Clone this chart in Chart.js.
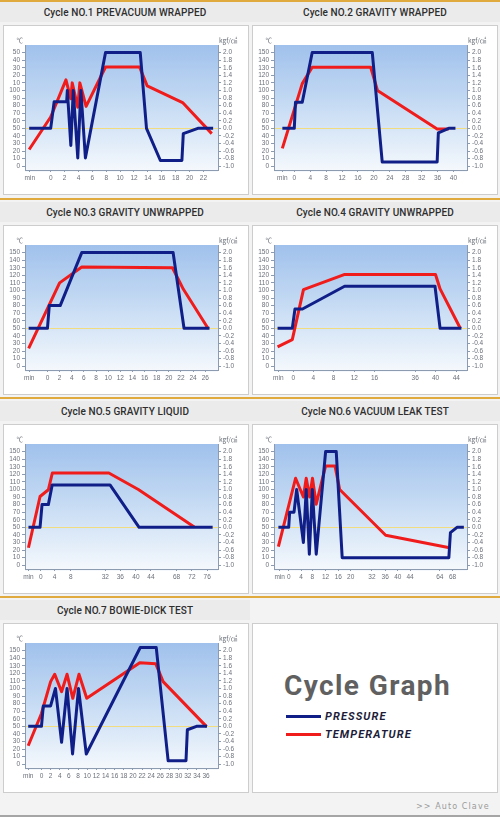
<!DOCTYPE html>
<html><head><meta charset="utf-8">
<script src="https://cdn.jsdelivr.net/npm/chart.js@4.4.1/dist/chart.umd.min.js"></script>
<style>
html,body{margin:0;padding:0}
body{width:500px;height:817px;position:relative;background:#f3f3f3;overflow:hidden;font-family:Roboto,"Liberation Sans",sans-serif}
.gold{position:absolute;left:0;width:500px;height:2px;background:#e0aa3e}
.title{position:absolute;width:250px;height:20px;line-height:21px;text-align:center;font-size:10px;font-weight:500;color:#2e2e2e;background:#ebebeb;letter-spacing:0.1px}
.panel{position:absolute;width:244px;height:168px;background:#fff;border:1px solid #cdcdcd}
.panel canvas{position:absolute;left:0;top:0}
#legendTitle{position:absolute;left:284px;top:666px;font:bold 28px Roboto,sans-serif;color:#606060;line-height:40px;letter-spacing:1.4px}
.lg{position:absolute;left:286px;width:35px;height:3px}
.lgt{position:absolute;left:325px;font:italic bold 11px Roboto,sans-serif;color:#1d1d3a;line-height:12px;letter-spacing:1.1px}
#footer{position:absolute;left:416px;top:802px;font:8px "DejaVu Sans",sans-serif;letter-spacing:1.1px;color:#9a9a9a}
#bottomLine{position:absolute;left:0;top:815px;width:500px;height:2px;background:#a5a5a5}
</style></head><body>
<script>
// ---------------- DATA ----------------
const cycleTitles = [
  "Cycle NO.1 PREVACUUM WRAPPED","Cycle NO.2 GRAVITY WRAPPED",
  "Cycle NO.3 GRAVITY UNWRAPPED","Cycle NO.4 GRAVITY UNWRAPPED",
  "Cycle NO.5 GRAVITY LIQUID","Cycle NO.6 VACUUM LEAK TEST",
  "Cycle NO.7 BOWIE-DICK TEST"];

const seriesNames = ["PRESSURE","TEMPERATURE"];
const tempUnit = "℃";
const pressureUnit = "kgf/㎠";

// temperature axis ticks (℃) and their printed labels
const tempTickValues = [0,10,20,30,40,50,60,70,80,90,100,110,120,130,140,150];
const tempTickLabels = ["0","10","20","30","40","50","60","70","80","90","100","110","120","130","140","150"];
// cycle 1's picture prints the upper labels without their leading "1"
const tempTickLabelsCycle1 = ["0","10","20","30","40","50","60","70","80","90","100","10","20","30","40","50"];
// pressure axis labels (kgf/㎠)
const pressureTickLabels = ["-1.0","-0.8","-0.6","-0.4","-0.2","0.0","0.2","0.4","0.6","0.8","1.0","1.2","1.4","1.6","1.8","2.0"];
// 0 kgf/㎠ sits level with 50 ℃, 1 kgf/㎠ = 50 ℃ of axis height
const pressureZeroTemp = 50;
const tempPerKgf = 50;

// x axis ticks (position on axis, printed label)
const cycle1TickPos = [-3,0,2,4,6,8,10,12,14,16,18,20,22];
const cycle1TickLabels = ["min","0","2","4","6","8","10","12","14","16","18","20","22"];
const cycle2TickPos = [-3,0,4,8,12,16,20,24,28,32,36,40];
const cycle2TickLabels = ["min","0","4","8","12","16","20","24","28","32","36","40"];
const cycle3TickPos = [-3,0,2,4,6,8,10,12,14,16,18,20,22,24,26];
const cycle3TickLabels = ["min","0","2","4","6","8","10","12","14","16","18","20","22","24","26"];
const cycle4TickPos = [-2.95,0,3.93,7.93,12,16,24,28,32.1];
const cycle4TickLabels = ["min","0","4","8","12","16","36","40","44"];
const cycle5TickPos = [-3.2,0,3.65,7.83,16.87,20.78,24.87,28.78,35.48,39.48,43.48];
const cycle5TickLabels = ["min","0","4","8","32","36","40","44","68","72","76"];
const cycle6TickPos = [-2.87,0,3.94,7.55,11.8,15.85,19.8,26.6,30.85,34.9,38.8,48.3,52.4];
const cycle6TickLabels = ["min","0","4","8","12","16","20","32","36","40","44","64","68"];
const cycle7TickPos = [-2.9,0,2,4,6,8,10,12,14,16,18,20,22,24,26,28,30,32,34,36];
const cycle7TickLabels = ["min","0","2","4","6","8","10","12","14","16","18","20","22","24","26","28","30","32","34","36"];

// visible x-range of each plot (axis units)
const xMinValues = [-3.7,-5.1,-3.7,-3.8,-4.1,-4.7,-3.6];
const xMaxValues = [24.1,43.4,28.1,34.2,46.3,57.0,38.6];

// series: [x, temperature ℃] and [x, pressure kgf/㎠]
const cycle1Temperature = [[-3.1,22],[0,65],[2.2,114],[2.9,89],[3.1,110],[3.9,78],[4.2,110],[5.1,79],[7.9,131],[12.8,131],[13.9,106],[19,84],[23.2,43]];
const cycle1Pressure = [[-3.1,0],[0,0],[0.5,0.7],[2.3,0.7],[2.4,1.0],[2.9,-0.45],[3.25,1.0],[3.9,-0.78],[4.35,1.0],[5.0,-0.78],[7.9,2.0],[12.9,2.0],[13.8,0],[15.8,-0.85],[18.9,-0.85],[19.1,-0.14],[21.2,0],[23.4,0]];

const cycle2Temperature = [[-3,23.5],[2,109],[4.5,130.6],[19.2,130.6],[20.9,100],[35.9,49],[38.8,49]];
const cycle2Pressure = [[-3,0],[0,0],[0.3,0.69],[2,0.69],[4.5,2.0],[19.6,2.0],[22.1,-0.89],[35.9,-0.89],[36.2,-0.12],[38.8,0],[40.5,0]];

const cycle3Temperature = [[-3.1,23.4],[2,110],[5.65,131],[20.6,130],[22.4,101.5],[26.5,49.4]];
const cycle3Pressure = [[-3.1,0],[0,0],[0.3,0.6],[2.1,0.6],[5.65,2.0],[20.7,2.0],[22.5,0],[26.7,0]];

const cycle4Temperature = [[-3.1,25.4],[-0.2,35],[2,101],[10,121],[28,121],[28.9,102],[32.9,49.8]];
const cycle4Pressure = [[-3.1,0],[-0.2,0],[0.33,0.51],[1.8,0.51],[10.1,1.11],[27.9,1.11],[28.9,0],[33.1,0]];

const cycle5Temperature = [[-3.2,23],[-0.17,90.7],[2,99.6],[3.04,121.7],[17.8,121.7],[25.5,100],[40.1,50.4]];
const cycle5Pressure = [[-3.2,0],[-0.17,0],[0.35,0.6],[2,0.6],[3,1.12],[18.1,1.12],[25.7,0],[44.9,0]];

const cycle6Temperature = [[-3.3,24.6],[2.2,114.8],[4.7,90],[5.6,114.8],[6.7,90],[7.6,114.8],[8.8,80.5],[11.8,131],[14.8,131],[16.3,100],[31,39.6],[51,23.3]];
const cycle6Pressure = [[-3.3,0],[0,0],[0.3,0.4],[1.7,0.4],[2.55,1.0],[4.7,-0.4],[5.6,1.0],[6.6,-0.71],[7.55,1.0],[8.8,-0.71],[11.8,2.0],[15.2,2.0],[17.1,-0.8],[51.2,-0.8],[51.7,-0.14],[53.8,0],[56,0]];

const cycle7Temperature = [[-2.9,24.3],[0,67],[2,109],[2.9,118.7],[4.4,95.7],[5.6,118.7],[6.85,87],[8.2,118.7],[9.9,87],[21.5,134],[25,132.5],[26.6,109],[36.1,49.6]];
const cycle7Pressure = [[-2.9,0],[0,0],[0.4,0.54],[2,0.54],[3.06,1.0],[4.4,-0.42],[5.6,1.0],[6.8,-0.73],[8.1,1.0],[9.8,-0.73],[21.6,2.08],[25.1,2.08],[27.7,-0.91],[31.6,-0.91],[31.9,-0.09],[33.9,0],[36.2,0]];

// ---------------- STYLE / LAYOUT ----------------
const PRESSURE_COLOR = "#101f88";
const TEMP_COLOR = "#f01c1c";
const TICK_COLOR = "#6a6f78";
const AXIS_COLOR = "#8c9bb0";
const TEMP_MIN = -5, TEMP_MAX = 160;
const rowTops = [0,200,399,598];
const colPanelLeft = [3,252];

const cycles = [
  {temp:cycle1Temperature, pres:cycle1Pressure, tp:cycle1TickPos, tl:cycle1TickLabels, yl:tempTickLabelsCycle1},
  {temp:cycle2Temperature, pres:cycle2Pressure, tp:cycle2TickPos, tl:cycle2TickLabels, yl:tempTickLabels},
  {temp:cycle3Temperature, pres:cycle3Pressure, tp:cycle3TickPos, tl:cycle3TickLabels, yl:tempTickLabels},
  {temp:cycle4Temperature, pres:cycle4Pressure, tp:cycle4TickPos, tl:cycle4TickLabels, yl:tempTickLabels},
  {temp:cycle5Temperature, pres:cycle5Pressure, tp:cycle5TickPos, tl:cycle5TickLabels, yl:tempTickLabels},
  {temp:cycle6Temperature, pres:cycle6Pressure, tp:cycle6TickPos, tl:cycle6TickLabels, yl:tempTickLabels},
  {temp:cycle7Temperature, pres:cycle7Pressure, tp:cycle7TickPos, tl:cycle7TickLabels, yl:tempTickLabels}
];

function el(cls, css, text){
  const d = document.createElement('div');
  if (cls) d.className = cls;
  Object.assign(d.style, css);
  if (text !== undefined) d.textContent = text;
  document.body.appendChild(d);
  return d;
}

// gold separators
[0,198,397,596].forEach(t => el('gold', {top:t+'px'}));

const plotDecor = {
  id:'plotDecor',
  beforeDraw(chart){
    const {ctx, chartArea:a, scales} = chart;
    const g = ctx.createLinearGradient(0, a.top, 0, a.bottom + 4);
    g.addColorStop(0, '#a0c1ec');
    g.addColorStop(0.5, '#c9ddf4');
    g.addColorStop(1, '#f7fafd');
    ctx.save();
    ctx.fillStyle = g;
    ctx.fillRect(a.left, a.top, a.right - a.left, a.bottom - a.top + 2);
    const y = Math.round(scales.y.getPixelForValue(pressureZeroTemp)) + 0.5;
    ctx.strokeStyle = '#f1dc80'; ctx.lineWidth = 1;
    ctx.beginPath(); ctx.moveTo(a.left, y); ctx.lineTo(a.right, y); ctx.stroke();
    ctx.restore();
  },
  afterDraw(chart){
    const {ctx, chartArea:a} = chart;
    ctx.save();
    ctx.fillStyle = TICK_COLOR;
    ctx.font = '6.5px "Noto Sans CJK KR", "Liberation Sans", sans-serif';
    ctx.textBaseline = 'alphabetic';
    ctx.textAlign = 'right';
    ctx.fillText(tempUnit, a.left - 2, a.top - 2);
    ctx.textAlign = 'left';
    ctx.fillText(pressureUnit, a.right + 1, a.top - 2);
    ctx.restore();
  }
};

const tickFont = {family:'"Liberation Sans", Arial, sans-serif', size:6.5};

cycles.forEach((c, i) => {
  const row = Math.floor(i/2), col = i % 2;
  const top = rowTops[row];
  const cellLeft = col*250;
  el('title', {left:cellLeft+'px', top:(top+2)+'px'}, cycleTitles[i]);
  const panel = el('panel', {left:colPanelLeft[col]+'px', top:(top+25)+'px'});
  const cv = document.createElement('canvas');
  cv.width = 244; cv.height = 168;
  cv.style.width = '244px'; cv.style.height = '168px';
  panel.appendChild(cv);

  new Chart(cv, {
    type:'line',
    data:{
      datasets:[
        {label:seriesNames[0], yAxisID:'y2', data:c.pres.map(([x,y])=>({x,y})),
         borderColor:PRESSURE_COLOR, borderWidth:3, borderJoinStyle:'round', pointRadius:0, tension:0, fill:false},
        {label:seriesNames[1], yAxisID:'y', data:c.temp.map(([x,y])=>({x,y})),
         borderColor:TEMP_COLOR, borderWidth:3, borderJoinStyle:'round', pointRadius:0, tension:0, fill:false}
      ]
    },
    options:{
      responsive:false, animation:false, devicePixelRatio:1,
      layout:{padding:{top:19,left:0,right:0,bottom:0}},
      plugins:{legend:{display:false}, tooltip:{enabled:false}},
      scales:{
        x:{type:'linear', min:xMinValues[i], max:xMaxValues[i],
           afterBuildTicks(s){ s.ticks = c.tp.map(v=>({value:v})); },
           afterFit(s){ s.height = 24; },
           ticks:{autoSkip:false, maxRotation:0, font:tickFont, color:TICK_COLOR, padding:2,
             callback(v){ const k = c.tp.indexOf(v); return k >= 0 ? c.tl[k] : ''; }},
           grid:{drawOnChartArea:false, drawTicks:true, tickLength:2, color:AXIS_COLOR},
           border:{display:true, color:AXIS_COLOR, width:1}},
        y:{type:'linear', position:'left', min:TEMP_MIN, max:TEMP_MAX,
           afterBuildTicks(s){ s.ticks = tempTickValues.map(v=>({value:v})); },
           afterFit(s){ s.width = 21; },
           ticks:{autoSkip:false, font:tickFont, color:TICK_COLOR, padding:2,
             callback(v){ const k = tempTickValues.indexOf(v); return k >= 0 ? c.yl[k] : ''; }},
           grid:{drawOnChartArea:false, drawTicks:true, tickLength:3, color:AXIS_COLOR},
           border:{display:true, color:AXIS_COLOR, width:1}},
        y2:{type:'linear', position:'right',
           min:(TEMP_MIN - pressureZeroTemp)/tempPerKgf, max:(TEMP_MAX - pressureZeroTemp)/tempPerKgf,
           afterBuildTicks(s){ s.ticks = pressureTickLabels.map(t=>({value:parseFloat(t)})); },
           afterFit(s){ s.width = 30; },
           ticks:{autoSkip:false, font:tickFont, color:TICK_COLOR, padding:2,
             callback(v, k){ return pressureTickLabels[k]; }},
           grid:{drawOnChartArea:false, drawTicks:true, tickLength:3, color:AXIS_COLOR},
           border:{display:true, color:AXIS_COLOR, width:1}}
      }
    },
    plugins:[plotDecor]
  });
});

// legend panel
el('panel', {left:colPanelLeft[1]+'px', top:(rowTops[3]+25)+'px'});
el(null, {}, 'Cycle Graph').id = 'legendTitle';
el('lg', {top:'715px', background:PRESSURE_COLOR});
el('lgt', {top:'711px'}, seriesNames[0]);
el('lg', {top:'733px', background:TEMP_COLOR});
el('lgt', {top:'729px'}, seriesNames[1]);
el(null, {}, '>> Auto Clave').id = 'footer';
el(null, {}).id = 'bottomLine';
</script>
</body></html>
